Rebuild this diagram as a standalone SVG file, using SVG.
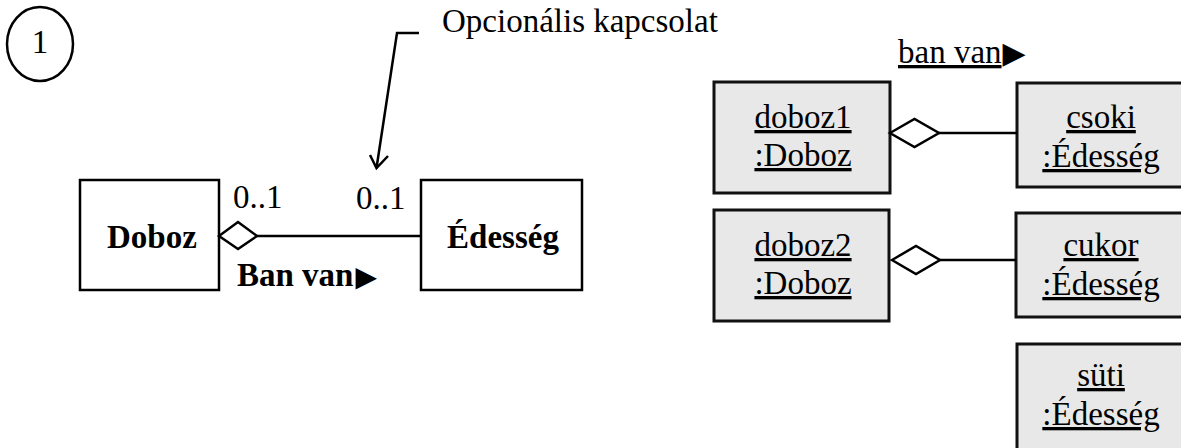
<svg xmlns="http://www.w3.org/2000/svg" width="1181" height="448" viewBox="0 0 1181 448">
<style>
.t{font-family:"Liberation Serif","Times New Roman",serif;font-size:33px;fill:#000}
.b{font-weight:bold}
.u{text-decoration:underline}
.box{fill:#fff;stroke:#000;stroke-width:2.5}
.obj{fill:#e8e8e8;stroke:#111;stroke-width:3}
.ln{fill:none;stroke:#000;stroke-width:2.5}
.dia{fill:#fff;stroke:#000;stroke-width:2.5}
.tri{font-family:"DejaVu Sans",sans-serif;font-weight:normal}
</style>
<rect width="1181" height="448" fill="#fff"/>
<g id="label-1">
<ellipse cx="40" cy="44" rx="33" ry="37" fill="none" stroke="#000" stroke-width="2.5"/>
<text class="t" x="40" y="53" text-anchor="middle" font-size="28">1</text>
</g>
<g id="note">
<text class="t" x="442" y="32">Opcionális kapcsolat</text>
</g>
<g id="doboz">
<rect class="box" x="80" y="180" width="139" height="110"/>
<text class="t b" x="107" y="248">Doboz</text>
</g>
<g id="edesseg">
<rect class="box" x="421" y="180" width="161" height="110"/>
<text class="t b" x="503" y="248" text-anchor="middle">Édesség</text>
</g>
<g id="doboz1">
<rect class="obj" x="714" y="82" width="176" height="111"/>
<text class="t u" x="803" y="128" text-anchor="middle">doboz1</text>
<text class="t u" x="803" y="166" text-anchor="middle">:Doboz</text>
</g>
<g id="doboz2">
<rect class="obj" x="714" y="210" width="175" height="111"/>
<text class="t u" x="803" y="256" text-anchor="middle">doboz2</text>
<text class="t u" x="803" y="294" text-anchor="middle">:Doboz</text>
</g>
<g id="csoki">
<rect class="obj" x="1017" y="83" width="170" height="104"/>
<text class="t u" x="1101" y="128" text-anchor="middle">csoki</text>
<text class="t u" x="1101" y="167" text-anchor="middle">:Édesség</text>
</g>
<g id="cukor">
<rect class="obj" x="1016" y="213" width="171" height="104"/>
<text class="t u" x="1101" y="256" text-anchor="middle">cukor</text>
<text class="t u" x="1101" y="295" text-anchor="middle">:Édesség</text>
</g>
<g id="suti">
<rect class="obj" x="1017" y="344" width="170" height="110"/>
<text class="t u" x="1101" y="386" text-anchor="middle">süti</text>
<text class="t u" x="1101" y="425" text-anchor="middle">:Édesség</text>
</g>
<g id="connectors">
<path class="ln" d="M257 236 H421"/>
<polygon class="dia" points="219,236 238,222 257,236 238,249"/>
<path class="ln" d="M939 133 H1017"/>
<polygon class="dia" points="890,133 914.5,119 939,133 914.5,147"/>
<path class="ln" d="M940 260 H1016"/>
<polygon class="dia" points="892,260 916,246 940,260 916,274"/>
<path class="ln" d="M419 33 H397 L376.5 168" stroke-width="2"/>
<path class="ln" d="M370 155 L376.5 168 L388 156" stroke-width="2"/>
<text class="t" x="233" y="208">0..1</text>
<text class="t" x="356" y="209">0..1</text>
<text class="t b" x="237" y="286">Ban van<tspan class="tri" font-size="28" dx="2">▶</tspan></text>
<text class="t" x="898" y="63"><tspan class="u">ban van</tspan><tspan class="tri" font-size="30" dx="1">▶</tspan></text>
</g>
</svg>
